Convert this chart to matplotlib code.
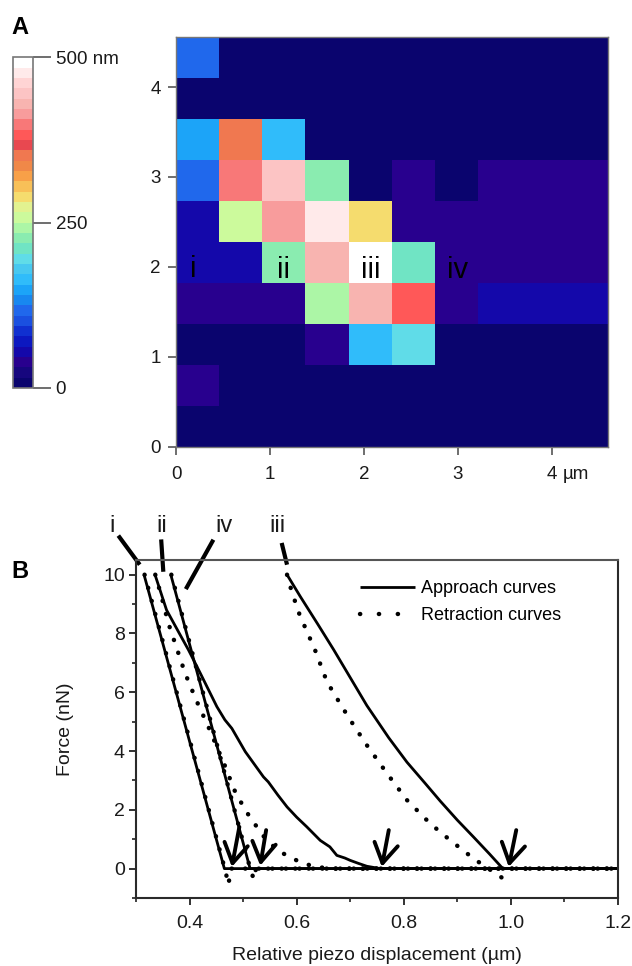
import numpy as np
import matplotlib
matplotlib.use("Agg")
import matplotlib.pyplot as plt
from matplotlib.colors import ListedColormap
from matplotlib.lines import Line2D
from matplotlib.ticker import MultipleLocator

plt.rcParams.update({"font.family": ["Liberation Sans", "DejaVu Sans"], "font.size": 13.5})

# ── A: height map (nm), top row first, 10 x 10 pixels over 4.6 x 4.56 µm ──
height_nm = [
    [117,   5,   5,   5,   5,   5,   5,   5,   5,   5],
    [  5,   5,   5,   5,   5,   5,   5,   5,   5,   5],
    [148, 350, 164,   5,   5,   5,   5,   5,   5,   5],
    [117, 398, 445, 226,   5,  35,   5,  35,  35,  35],
    [ 55, 258, 414, 476, 290,  35,  35,  35,  35,  35],
    [ 55,  55, 226, 430, 495, 211,  35,  35,  35,  35],
    [ 35,  35,  35, 242, 430, 383,  35,  55,  55,  55],
    [  5,   5,   5,  35, 164, 195,   5,   5,   5,   5],
    [ 35,   5,   5,   5,   5,   5,   5,   5,   5,   5],
    [  5,   5,   5,   5,   5,   5,   5,   5,   5,   5],
]
map_width_um = 4.6
map_height_um = 4.56
site_names = ["i", "ii", "iii", "iv"]
site_x = [0.18, 1.14, 2.07, 3.0]
site_y = [1.98, 1.96, 1.97, 1.97]

# 32-step height palette, lowest first
palette = [
    "#0a046e", "#16067e", "#28008e", "#1408aa", "#0c18c0", "#1030d0", "#1a50e0", "#2068ec",
    "#1888f0", "#1ca4f8", "#30bcfa", "#48c8f0", "#60dce8", "#70e4c4", "#8aecb0", "#acf6a6",
    "#ccfa9c", "#e2f290", "#f5dc6e", "#f8c058", "#f8a048", "#f08848", "#f07850", "#e84850",
    "#ff5858", "#f87878", "#f89c9c", "#f8b4b0", "#fcc4c4", "#ffd4d4", "#ffeaea", "#ffffff",
]

# ── B: force curves (µm, nN) ──
i_app_x = [0.315, 0.465, 1.2]
i_app_y = [10.0, 0.0, 0.0]
i_ret_x = [0.316, 0.465, 0.473, 0.476, 1.2]
i_ret_y = [10.0, 0.05, -0.55, 0.0, 0.0]

ii_app_x = [0.3355, 0.357, 0.378, 0.398, 0.42, 0.451, 0.466, 0.479, 0.504, 0.538, 0.547,
            0.565, 0.582, 0.60, 0.619, 0.644, 0.662, 0.675, 0.69, 0.70, 0.715, 0.731, 0.756, 1.2]
ii_app_y = [10.0, 8.8, 8.1, 7.44, 6.65, 5.51, 5.06, 4.77, 3.98, 3.12, 2.95,
            2.5, 2.1, 1.75, 1.42, 0.96, 0.74, 0.45, 0.36, 0.28, 0.18, 0.08, 0.0, 0.0]
ii_ret_x = [0.336, 0.347, 0.3604, 0.376, 0.3916, 0.412, 0.435, 0.452, 0.4695, 0.482, 0.504,
            0.5256, 0.544, 0.569, 0.60, 0.628, 0.66, 1.2]
ii_ret_y = [10.0, 9.3, 8.35, 7.5, 6.65, 5.75, 4.83, 4.1, 3.35, 2.73, 1.99,
            1.42, 0.96, 0.57, 0.28, 0.09, 0.0, 0.0]

iii_app_x = [0.582, 0.607, 0.64, 0.669, 0.70, 0.731, 0.772, 0.806, 0.84, 0.868, 0.90, 0.93,
             0.96, 0.985, 1.2]
iii_app_y = [10.0, 9.25, 8.3, 7.45, 6.5, 5.55, 4.45, 3.62, 2.9, 2.3, 1.65, 1.08,
             0.5, 0.0, 0.0]
iii_ret_x = [0.582, 0.588, 0.603, 0.619, 0.633, 0.6565, 0.6845, 0.706, 0.731, 0.7686, 0.806,
             0.8495, 0.887, 0.9305, 0.949, 0.977, 0.999]
iii_ret_y = [10.0, 9.6, 8.75, 8.07, 7.5, 6.36, 5.51, 4.89, 4.2, 3.24, 2.33,
             1.53, 0.96, 0.34, 0.11, -0.23, -0.51]

iv_app_x = [0.365, 0.513, 1.2]
iv_app_y = [10.0, 0.0, 0.0]
iv_ret_x = [0.366, 0.513, 0.52, 0.524, 1.2]
iv_ret_y = [10.0, 0.02, -0.37, 0.0, 0.0]

# contact-point arrows: (tail x, tail y, head x, head y)
contact_arrows = [
    (0.493, 1.42, 0.479, 0.06),
    (0.543, 1.31, 0.532, 0.10),
    (0.772, 1.31, 0.759, 0.06),
    (1.010, 1.31, 0.996, 0.06),
]
# curve labels above the frame with leader lines
curve_tags = ["i", "ii", "iv", "iii"]
tag_x = [0.256, 0.348, 0.464, 0.564]
tag_y = 11.67
leader_from = [(0.267, 11.33), (0.347, 11.2), (0.4445, 11.19), (0.572, 11.08)]
leader_to = [(0.307, 10.34), (0.351, 10.1), (0.393, 9.51), (0.582, 10.34)]

W, H = 632, 966
fig = plt.figure(figsize=(W / 100, H / 100), dpi=100)

def px_axes(left, top, right, bottom):
    return fig.add_axes([left / W, 1 - bottom / H, (right - left) / W, (bottom - top) / H])

TXT = "#1a1a1a"
GRAY = "#555555"

# ── panel A ──
cmap = ListedColormap(palette)
axA = px_axes(176, 36.7, 608, 446.7)
im = axA.imshow(np.array(height_nm), cmap=cmap, vmin=0, vmax=500, origin="upper",
                extent=(0, map_width_um, 0, map_height_um), aspect="auto",
                interpolation="nearest")
axA.set_xlim(0, map_width_um)
axA.set_ylim(0, map_height_um)
axA.set_xticks([0, 1, 2, 3, 4])
axA.set_yticks([0, 1, 2, 3, 4])
axA.tick_params(direction="out", length=6, width=1.2, color=GRAY, labelcolor=TXT,
                labelsize=13.5)
axA.tick_params(axis="x", pad=8)
axA.tick_params(axis="y", pad=5)
for s in axA.spines.values():
    s.set_color("#777777")
    s.set_linewidth(1.0)
axA.text(4.12, -0.069, "µm", transform=axA.get_xaxis_transform(), ha="left", va="center",
         fontsize=13.5, color=TXT)
for name, x, y in zip(site_names, site_x, site_y):
    axA.text(x, y, name, ha="center", va="center", fontsize=21, color="black")

cax = px_axes(13.3, 57.3, 33.3, 388)
cb = fig.colorbar(im, cax=cax, ticks=[0, 250, 500])
cb.ax.set_yticklabels(["0", "250", "500 nm"])
cb.outline.set_edgecolor("#777777")
cb.outline.set_linewidth(1.2)
cb.ax.tick_params(length=13, width=1.2, color=GRAY, labelcolor=TXT, labelsize=13.5, pad=3)

fig.text(20 / W, 1 - 27 / H, "A", fontsize=17, fontweight="bold", ha="center", va="center")

# ── panel B ──
axB = px_axes(136, 560, 618, 898)
solid = dict(color="black", lw=2.0, solid_capstyle="butt")
dotted = dict(color="black", lw=3.2, linestyle=(0, (0.05, 3.0)), dash_capstyle="round")

for xs, ys in [(i_app_x, i_app_y), (ii_app_x, ii_app_y), (iii_app_x, iii_app_y),
               (iv_app_x, iv_app_y)]:
    axB.plot(xs, ys, **solid)
for xs, ys in [(i_ret_x, i_ret_y), (ii_ret_x, ii_ret_y), (iii_ret_x, iii_ret_y),
               (iv_ret_x, iv_ret_y)]:
    axB.plot(xs, ys, **dotted)

for tx, ty, hx, hy in contact_arrows:
    axB.annotate("", xy=(hx, hy), xytext=(tx, ty),
                 arrowprops=dict(arrowstyle="->,head_length=1.4,head_width=0.85",
                                 lw=2.8, color="black", shrinkA=0, shrinkB=0,
                                 mutation_scale=10))

for tag, tx, (x0, y0), (x1, y1) in zip(curve_tags, tag_x, leader_from, leader_to):
    axB.text(tx, tag_y, tag, ha="center", va="center", fontsize=17, color=TXT, clip_on=False)
    axB.plot([x0, x1], [y0, y1], color="black", lw=3.0, solid_capstyle="butt", clip_on=False)

axB.set_xlim(0.3, 1.2)
axB.set_ylim(-1, 10.5)
axB.set_xticks([0.4, 0.6, 0.8, 1.0, 1.2])
axB.set_xticklabels(["0.4", "0.6", "0.8", "1.0", "1.2"])
axB.set_yticks([0, 2, 4, 6, 8, 10])
axB.xaxis.set_minor_locator(MultipleLocator(0.1))
axB.yaxis.set_minor_locator(MultipleLocator(1))
axB.tick_params(which="major", direction="out", length=5, width=1.3, color="#222",
                labelcolor=TXT, labelsize=14)
axB.tick_params(which="minor", direction="out", length=3, width=1.2, color="#222")
axB.tick_params(axis="x", which="major", pad=7)
axB.tick_params(axis="y", which="major", pad=3)
for s in axB.spines.values():
    s.set_color("#2a2a2a")
    s.set_linewidth(1.5)
axB.spines["top"].set_color("#555555")

axB.set_xlabel("Relative piezo displacement (µm)", fontsize=14, color=TXT)
axB.xaxis.label.set_verticalalignment("center")
axB.xaxis.set_label_coords(0.5, -0.169)
axB.set_ylabel("Force (nN)", fontsize=14, color=TXT)
axB.yaxis.label.set_verticalalignment("center")
axB.yaxis.set_label_coords(-0.147, 0.5)

# legend keys: four dots for the retraction key
handles = [Line2D([], [], **solid),
           Line2D([], [], color="black", lw=3.2, linestyle=(0, (0.05, 4.2)),
                  dash_capstyle="round")]
axB.legend(handles, ["Approach curves", "Retraction curves"], loc="upper left",
           bbox_to_anchor=(360 / W, 1 - 580 / H), bbox_transform=fig.transFigure,
           frameon=False, fontsize=13, borderpad=0, handlelength=3.05,
           handletextpad=0.35, labelspacing=0.55, borderaxespad=0)

fig.text(20 / W, 1 - 572 / H, "B", fontsize=17, fontweight="bold", ha="center", va="center")

fig.savefig("out.png", dpi=100)
